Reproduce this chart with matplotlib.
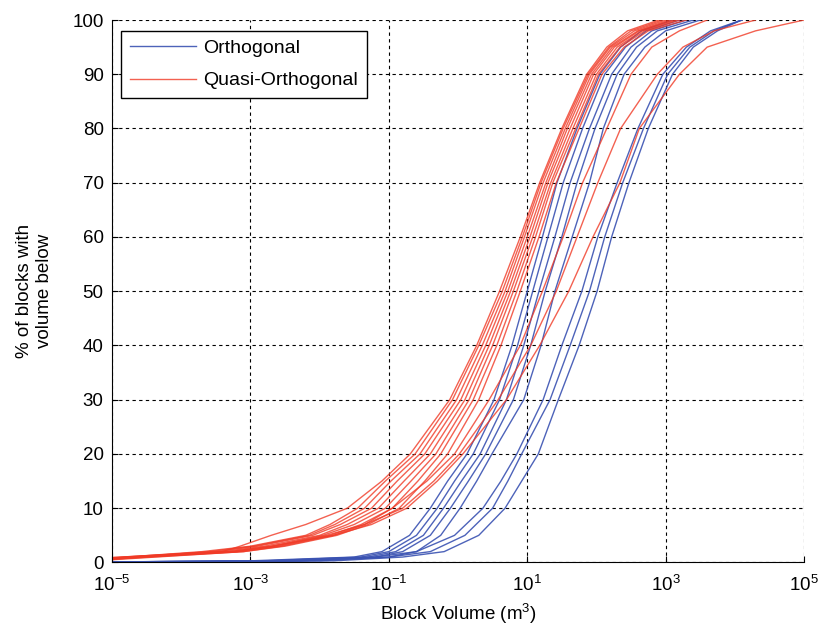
import numpy as np
import matplotlib
matplotlib.use("Agg")
import matplotlib.pyplot as plt

blue_pct = [0.3, 1, 2, 5, 10, 15, 20, 30, 40, 50, 60, 70, 80, 90, 95, 98, 100]
blue_start = [0.1, 0.1, 0.1, 0.1, 0.1, 0.0, 0.0, 0.0]  # % at 1e-5
orthogonal_lx = [
    [-3.0, -1.5, -1.1, -0.70, -0.40, -0.15, 0.13, 0.52, 0.78, 1.00, 1.22, 1.43, 1.72, 2.05, 2.35, 2.65, 3.1],
    [-2.8, -1.4, -1.0, -0.60, -0.30, -0.05, 0.22, 0.60, 0.86, 1.08, 1.30, 1.52, 1.80, 2.12, 2.42, 2.72, 3.2],
    [-2.7, -1.3, -0.9, -0.50, -0.21, 0.05, 0.32, 0.70, 0.95, 1.17, 1.40, 1.62, 1.90, 2.22, 2.50, 2.80, 3.3],
    [-2.5, -1.2, -0.8, -0.40, -0.11, 0.15, 0.40, 0.80, 1.05, 1.26, 1.50, 1.72, 1.98, 2.30, 2.58, 2.88, 3.4],
    [-2.3, -1.0, -0.6, -0.25, 0.03, 0.27, 0.49, 0.95, 1.20, 1.40, 1.65, 1.90, 2.10, 2.40, 2.70, 3.00, 3.5],
    [-2.3, -1.2, -0.6, -0.05, 0.36, 0.62, 0.85, 1.23, 1.50, 1.79, 2.02, 2.30, 2.60, 2.96, 3.30, 3.65, 4.1],
    [-2.0, -1.0, -0.4, 0.10, 0.50, 0.72, 0.92, 1.33, 1.62, 1.90, 2.12, 2.38, 2.68, 3.03, 3.35, 3.70, 4.1],
    [-1.8, -0.8, -0.2, 0.30, 0.68, 0.92, 1.16, 1.45, 1.75, 2.01, 2.22, 2.47, 2.75, 3.10, 3.40, 3.75, 4.1],
]

red_pct = [2, 3, 5, 7, 10, 15, 20, 30, 40, 50, 60, 70, 80, 90, 95, 98, 100]
red_start = [0.9, 0.8, 0.7, 0.9, 0.6, 0.8, 0.7, 0.5, 0.6, 0.7, 0.8]  # % at 1e-5
quasi_lx = [
    [-3.40, -3.15, -2.70, -2.20, -1.60, -1.10, -0.69, -0.12, 0.27, 0.60, 0.90, 1.18, 1.50, 1.86, 2.15, 2.45, 2.90],
    [-3.70, -3.00, -2.20, -1.85, -1.45, -1.05, -0.62, -0.08, 0.30, 0.64, 0.93, 1.20, 1.52, 1.88, 2.18, 2.50, 2.95],
    [-3.60, -2.95, -2.15, -1.78, -1.35, -0.97, -0.55, -0.02, 0.35, 0.68, 0.96, 1.23, 1.55, 1.90, 2.20, 2.55, 3.00],
    [-3.50, -2.90, -2.10, -1.70, -1.25, -0.88, -0.48, 0.04, 0.40, 0.72, 1.00, 1.27, 1.58, 1.93, 2.23, 2.60, 3.05],
    [-3.40, -2.80, -2.00, -1.60, -1.15, -0.78, -0.40, 0.10, 0.45, 0.76, 1.04, 1.30, 1.62, 1.96, 2.26, 2.62, 3.10],
    [-3.30, -2.70, -1.95, -1.50, -1.05, -0.68, -0.32, 0.16, 0.50, 0.80, 1.08, 1.34, 1.66, 2.00, 2.30, 2.66, 3.15],
    [-3.20, -2.60, -1.85, -1.40, -0.95, -0.58, -0.25, 0.22, 0.56, 0.85, 1.12, 1.37, 1.70, 2.03, 2.34, 2.70, 3.20],
    [-3.10, -2.50, -1.75, -1.30, -0.85, -0.48, -0.15, 0.30, 0.62, 0.90, 1.17, 1.42, 1.75, 2.08, 2.40, 2.75, 3.30],
    [-3.10, -2.55, -1.80, -1.35, -0.95, -0.45, -0.05, 0.45, 0.90, 1.22, 1.52, 1.80, 2.15, 2.50, 2.80, 3.20, 3.60],
    [-3.20, -2.65, -1.90, -1.35, -0.80, -0.35, 0.02, 0.58, 1.05, 1.42, 1.72, 2.02, 2.35, 2.88, 3.25, 3.70, 4.30],
    [-3.30, -2.70, -1.80, -1.25, -0.74, -0.30, 0.07, 0.70, 1.18, 1.60, 1.95, 2.34, 2.62, 3.20, 3.60, 4.30, 5.00],
]

xticks = [1e-5, 1e-3, 1e-1, 1e1, 1e3, 1e5]
xtick_labels = ["$10^{-5}$", "$10^{-3}$", "$10^{-1}$", "$10^{1}$", "$10^{3}$", "$10^{5}$"]
yticks = list(range(0, 101, 10))

plt.rcParams['font.family'] = ['Liberation Sans', 'DejaVu Sans']
plt.rcParams['mathtext.default'] = 'regular'

blue = '#3a52b2'
red = '#f03a26'

fig = plt.figure(figsize=(8.21, 6.37), dpi=100)
ax = fig.add_axes([0.1364, 0.117, 0.8429, 0.8516])

for i, lx in enumerate(orthogonal_lx):
    xs = np.concatenate([[1e-5], 10.0 ** np.array(lx)])
    ys = [blue_start[i]] + blue_pct
    ax.plot(xs, ys, color=blue, lw=1.0, alpha=0.9,
            label="Orthogonal" if i == 0 else None)

for i, lx in enumerate(quasi_lx):
    xs = np.concatenate([[1e-5], 10.0 ** np.array(lx)])
    ys = [red_start[i]] + red_pct
    ax.plot(xs, ys, color=red, lw=1.0, alpha=0.8,
            label="Quasi-Orthogonal" if i == 0 else None)

ax.set_xscale('log')
ax.set_xlim(1e-5, 1e5)
ax.set_ylim(0, 100)
ax.set_xticks(xticks)
ax.set_xticklabels(xtick_labels)
ax.xaxis.set_minor_locator(matplotlib.ticker.NullLocator())
ax.set_yticks(yticks)
ax.tick_params(direction='in', length=4, labelsize=13.5)
ax.tick_params(axis='x', pad=9)
ax.tick_params(axis='y', pad=6)
ax.grid(True, color='black', linestyle=(0, (3, 3)), linewidth=0.8)
ax.spines['top'].set_visible(False)
ax.spines['right'].set_visible(False)

ax.set_xlabel("Block Volume (m$^3$)", fontsize=13.5, labelpad=5)
ax.set_ylabel("% of blocks with\nvolume below", fontsize=13.5, labelpad=14)

leg = ax.legend(loc='upper left', bbox_to_anchor=(0.013, 0.98), borderaxespad=0,
                fancybox=False, edgecolor='black', fontsize=14, handlelength=3.4,
                handletextpad=0.4, labelspacing=0.75, borderpad=0.45, framealpha=1)
leg.get_frame().set_linewidth(1.0)

plt.savefig("out.png", dpi=100)
